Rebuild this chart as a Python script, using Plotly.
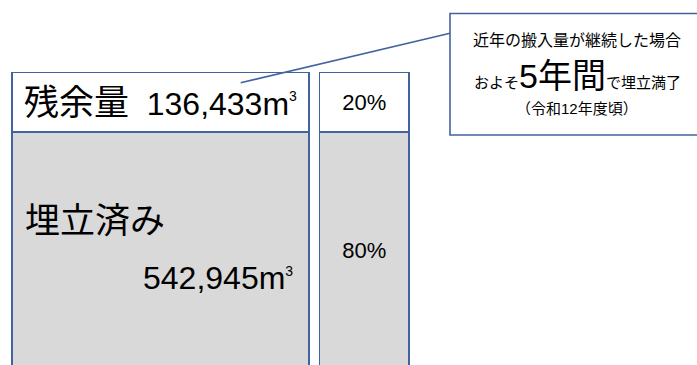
import plotly.graph_objects as go

# ---- data ----
categories = ["残余量", "埋立済み"]
volumes = [136433, 542945]          # m3
bar_x = ["数量", "割合"]
callout_lines = ["近年の搬入量が継続した場合", "およそ", "5年間", "で埋立満了", "（令和12年度頃）"]

total = sum(volumes)
pcts = [round(v / total * 100) for v in volumes]

FONT = "Liberation Sans, Noto Sans CJK JP"
EDGE = "#4163a0"
FILL = "#d9d9d9"
M3 = "m<sup><span style='font-size:14px'>3</span></sup>"

fig = go.Figure()

widths = [1.458, 0.440]

# bottom segment: 埋立済み
fig.add_trace(go.Bar(
    x=bar_x, y=[volumes[1], volumes[1]], width=widths,
    marker=dict(color=FILL, line=dict(color=EDGE, width=1.6)),
    text=["", f"{pcts[1]}%"],
    textposition="inside", insidetextanchor="middle",
    textfont=dict(family=FONT, size=22, color="#000"),
    constraintext="none", name=categories[1], hoverinfo="skip",
))
# top segment: 残余量
fig.add_trace(go.Bar(
    x=bar_x, y=[volumes[0], volumes[0]], width=widths,
    marker=dict(color="white", line=dict(color=EDGE, width=1.6)),
    text=[f"<span style='font-size:35px'>{categories[0]}</span>\u00a0\u00a0{volumes[0]:,}{M3}",
          f"{pcts[0]}%"],
    textposition="inside", insidetextanchor="middle",
    textfont=dict(family=FONT, size=[32, 22], color="#000"),
    constraintext="none", name=categories[0], hoverinfo="skip",
))

annotations = [
    dict(text=categories[1], xref="paper", yref="paper", x=23/697, y=1-221/365,
         xanchor="left", yanchor="middle", showarrow=False,
         font=dict(family=FONT, size=35, color="#000")),
    dict(text=f"{volumes[1]:,}{M3}", xref="paper", yref="paper", x=295/697, y=1-278/365,
         xanchor="right", yanchor="middle", showarrow=False,
         font=dict(family=FONT, size=32, color="#000")),
    dict(text=callout_lines[0], xref="paper", yref="paper", x=577/697, y=1-40/365,
         xanchor="center", yanchor="middle", showarrow=False,
         font=dict(family=FONT, size=16, color="#000")),
    dict(text=f"{callout_lines[1]}<span style='font-size:34px'>{callout_lines[2]}</span>{callout_lines[3]}",
         xref="paper", yref="paper", x=577/697, y=1-76/365,
         xanchor="center", yanchor="middle", showarrow=False,
         font=dict(family=FONT, size=15, color="#000")),
    dict(text=callout_lines[4], xref="paper", yref="paper", x=577/697, y=1-108/365,
         xanchor="center", yanchor="middle", showarrow=False,
         font=dict(family=FONT, size=15, color="#000")),
]

shapes = [
    dict(type="rect", xref="paper", yref="paper", x0=450/697, x1=1.02,
         y0=1-135/365, y1=1-13.5/365, line=dict(color=EDGE, width=1.6), fillcolor="white"),
    dict(type="line", xref="paper", yref="paper", x0=240.7/697, y0=1-82.7/365,
         x1=450/697, y1=1-33.3/365, line=dict(color=EDGE, width=1.6)),
]

fig.update_layout(
    width=697, height=365,
    margin=dict(l=0, r=0, t=0, b=0),
    paper_bgcolor="white", plot_bgcolor="white",
    barmode="stack", showlegend=False,
    xaxis=dict(type="category", range=[-0.788, 2.634], visible=False, fixedrange=True),
    yaxis=dict(range=[total * 0.0128, total * 1.2447], visible=False, fixedrange=True),
    annotations=annotations, shapes=shapes,
    font=dict(family=FONT),
)

fig.write_html("out.html")
